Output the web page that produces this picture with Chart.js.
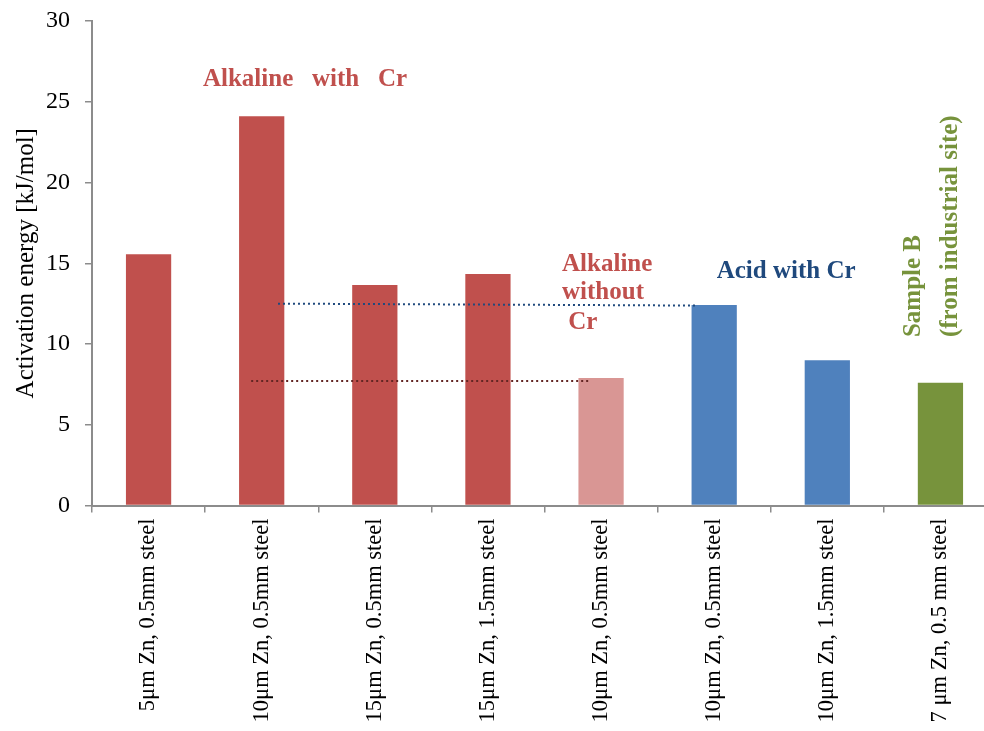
<!DOCTYPE html>
<html>
<head>
<meta charset="utf-8">
<script src="https://cdn.jsdelivr.net/npm/chart.js@4/dist/chart.umd.min.js"></script>
<style>
  html, body { margin: 0; padding: 0; overflow: hidden; background: #fff; }
  #c { display: block; }
</style>
</head>
<body>
<canvas id="c" width="1000" height="731"></canvas>
<script>
// ---- data ----
const categories = [
  "5μm Zn, 0.5mm steel",
  "10μm Zn, 0.5mm steel",
  "15μm Zn, 0.5mm steel",
  "15μm Zn, 1.5mm steel",
  "10μm Zn, 0.5mm steel",
  "10μm Zn, 0.5mm steel",
  "10μm Zn, 1.5mm steel",
  "7 μm Zn, 0.5 mm steel"
];
const activationEnergy = [15.55, 24.1, 13.65, 14.33, 7.9, 12.42, 9.0, 7.6];
const yTicks = [0, 5, 10, 15, 20, 25, 30];
// reference (dotted) lines: start/end category position and value
const acidLineX = [1.144, 4.849];
const acidLineY = [12.5, 12.38];
const alkLineX = [0.907, 3.886];
const alkLineY = [7.71, 7.71];

// ---- styles ----
const barColors = ["#C0504D", "#C0504D", "#C0504D", "#C0504D", "#D99694", "#4F81BD", "#4F81BD", "#77933C"];
const FONT = "'Liberation Serif', 'DejaVu Serif', serif";
const AXIS_GRAY = "#8C8C8C";

const annotations = [
  { text: "Alkaline   with   Cr", x: 1.383, y: 26.35, color: "#C0504D", align: "center", rot: 0 },
  { text: "Alkaline", x: 3.655, y: 14.89, color: "#C0504D", align: "left", rot: 0 },
  { text: "without", x: 3.655, y: 13.16, color: "#C0504D", align: "left", rot: 0 },
  { text: "Cr", x: 3.71, y: 11.30, color: "#C0504D", align: "left", rot: 0 },
  { text: "Acid with Cr", x: 5.636, y: 14.46, color: "#1F497D", align: "center", rot: 0 },
  { text: "Sample B", x: 6.758, y: 10.43, color: "#77933C", align: "left", rot: -90 },
  { text: "(from industrial site)", x: 7.085, y: 10.43, color: "#77933C", align: "left", rot: -90 }
];

const overlayPlugin = {
  id: 'overlay',
  afterDatasetsDraw(chart) {
    const ctx = chart.ctx;
    const xs = chart.scales.x, ys = chart.scales.y;
    function dotted(xv, yv, color) {
      ctx.save();
      ctx.strokeStyle = color;
      ctx.lineWidth = 2;
      ctx.setLineDash([2, 3]);
      ctx.beginPath();
      ctx.moveTo(xs.getPixelForValue(xv[0]), ys.getPixelForValue(yv[0]));
      ctx.lineTo(xs.getPixelForValue(xv[1]), ys.getPixelForValue(yv[1]));
      ctx.stroke();
      ctx.restore();
    }
    dotted(acidLineX, acidLineY, "#1F497D");
    dotted(alkLineX, alkLineY, "#632523");

    annotations.forEach(a => {
      ctx.save();
      ctx.font = "bold 25px " + FONT;
      ctx.fillStyle = a.color;
      ctx.textBaseline = "middle";
      ctx.textAlign = a.align;
      const px = xs.getPixelForValue(a.x), py = ys.getPixelForValue(a.y);
      ctx.translate(px, py);
      if (a.rot) ctx.rotate(a.rot * Math.PI / 180);
      ctx.fillText(a.text, 0, 0);
      ctx.restore();
    });
  }
};

new Chart(document.getElementById('c'), {
  type: 'bar',
  data: {
    labels: categories,
    datasets: [{
      data: activationEnergy,
      backgroundColor: barColors,
      borderWidth: 0,
      barPercentage: 0.4,
      categoryPercentage: 1.0
    }]
  },
  options: {
    responsive: false,
    animation: false,
    devicePixelRatio: 1,
    layout: { padding: { top: 21, right: 3, left: 0, bottom: 0 } },
    plugins: {
      legend: { display: false },
      tooltip: { enabled: false }
    },
    scales: {
      x: {
        offset: true,
        grid: {
          display: true, offset: true, drawOnChartArea: false, drawTicks: true,
          tickLength: 7, color: AXIS_GRAY, lineWidth: 1.5
        },
        border: { display: true, color: AXIS_GRAY, width: 2 },
        ticks: {
          color: "#000", font: { family: FONT, size: 22.5 },
          maxRotation: 90, minRotation: 90, padding: 6, autoSkip: false
        },
        afterFit(s) { s.height = 225.5; s.paddingLeft = 0; s.paddingRight = 0; }
      },
      y: {
        min: 0, max: 30,
        afterBuildTicks(s) { s.ticks = yTicks.map(v => ({ value: v })); },
        grid: {
          display: true, drawOnChartArea: false, drawTicks: true,
          tickLength: 7, color: AXIS_GRAY, lineWidth: 1.5
        },
        border: { display: true, color: AXIS_GRAY, width: 2 },
        ticks: { color: "#000", font: { family: FONT, size: 24 }, padding: 15 },
        title: {
          display: true, text: "Activation energy [kJ/mol]",
          color: "#000", font: { family: FONT, size: 25 },
          padding: { top: 11, bottom: 0 }
        },
        afterFit(s) { s.width = 92; s.paddingTop = 0; s.paddingBottom = 0; }
      }
    }
  },
  plugins: [overlayPlugin]
});
</script>
</body>
</html>
